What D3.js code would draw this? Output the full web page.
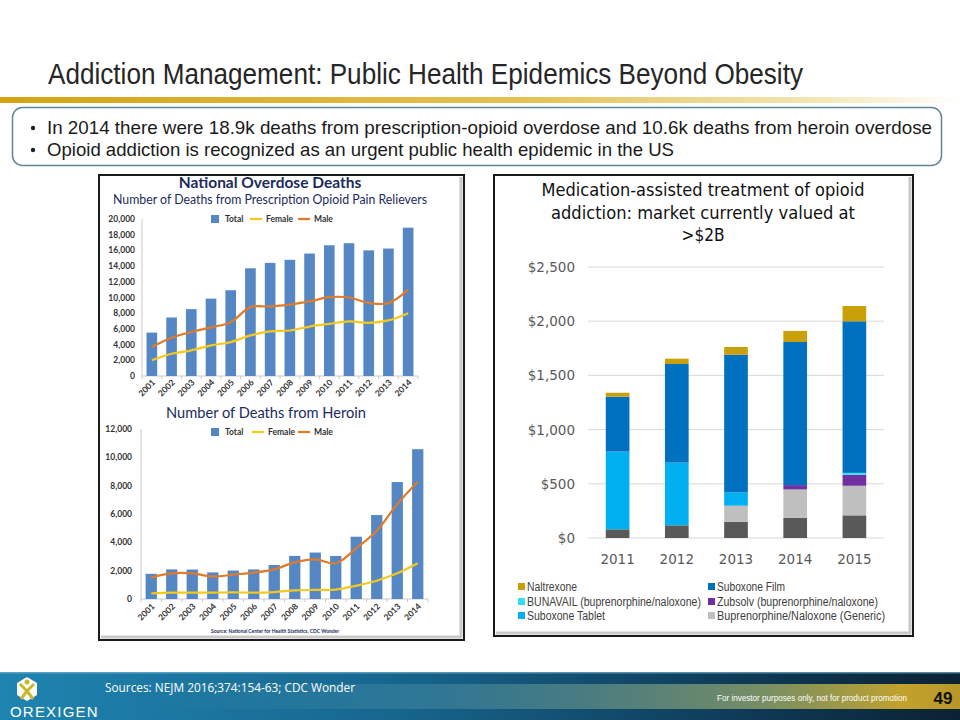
<!DOCTYPE html>
<html><head><meta charset="utf-8">
<script src="https://cdn.jsdelivr.net/npm/d3@7"></script>
<style>body{margin:0;background:#fff}svg{display:block}</style>
</head><body>
<script>
// ---------- DATA ----------
const years = ["2001","2002","2003","2004","2005","2006","2007","2008","2009","2010","2011","2012","2013","2014"];
const rxTotal  = [5528,7456,8517,9857,10928,13723,14408,14800,15597,16651,16917,16007,16235,18893];
const rxMale   = [3690,4870,5600,6200,6860,8770,8860,9100,9500,10040,10000,9320,9280,11000];
const rxFemale = [2000,2840,3260,3900,4320,5170,5680,5800,6300,6650,6950,6780,7080,8000];
const herTotal  = [1779,2089,2080,1878,2009,2088,2399,3041,3278,3036,4397,5925,8257,10574];
const herMale   = [1530,1810,1810,1580,1720,1860,2090,2590,2800,2520,3580,4820,6700,8280];
const herFemale = [400,450,450,450,470,450,490,610,640,660,940,1290,1810,2520];
const rxTicks = [0,2000,4000,6000,8000,10000,12000,14000,16000,18000,20000];
const herTicks = [0,2000,4000,6000,8000,10000,12000];

const marketYears = ["2011","2012","2013","2014","2015"];
const otherBup   = [80,117,150,187,209];
const generic    = [0,0,148,261,273];
const suboxTablet= [717,579,122,0,0];
const zubsolv    = [0,0,0,40,101];
const bunavail   = [0,0,0,0,18];
const suboxFilm  = [506,909,1271,1320,1398];
const naltrexone = [37,49,71,102,141];
const marketTicks = [0,500,1000,1500,2000,2500];
const marketTickLabels = ["$0","$500","$1,000","$1,500","$2,000","$2,500"];

// ---------- SVG ----------
const W=960,H=720;
const svg=d3.select("body").append("svg").attr("width",W).attr("height",H);
svg.append("rect").attr("width",W).attr("height",H).attr("fill","#fff");
const defs=svg.append("defs");

function grad(id,stops,x2="100%",y2="0%"){
  const g=defs.append("linearGradient").attr("id",id).attr("x1","0%").attr("y1","0%").attr("x2",x2).attr("y2",y2);
  stops.forEach(s=>g.append("stop").attr("offset",s[0]).attr("stop-color",s[1]).attr("stop-opacity",s[2]==null?1:s[2]));
}
grad("gold",[["0%","#d4a410"],["55%","#e3c255"],["85%","#f3e6b5"],["100%","#ffffff"]]);
grad("foot",[["0%","#1f84b0"],["40%","#17678f"],["75%","#0f3d5a"],["100%","#0b2233"]]);
grad("stripe",[["0%","#4a9ab8",0],["35%","#5f9fae",0.35],["75%","#8ea36a",0.8],["93%","#c2a22c",1],["100%","#b8962a",1]]);

// ---------- HEADER ----------
svg.append("text").attr("x",48).attr("y",84).attr("textLength",755).attr("lengthAdjust","spacingAndGlyphs")
  .style("font-family","Liberation Sans, Arial").style("font-size","29px").attr("fill","#262626")
  .text("Addiction Management: Public Health Epidemics Beyond Obesity");
svg.append("rect").attr("x",0).attr("y",97).attr("width",W).attr("height",6).attr("fill","url(#gold)");
svg.append("rect").attr("x",12.5).attr("y",107.5).attr("width",929).attr("height",58).attr("rx",10)
  .attr("fill","#fff").attr("stroke","#5f8795").attr("stroke-width",1.5);
const bullets=[["In 2014 there were 18.9k deaths from prescription-opioid overdose and 10.6k deaths from heroin overdose",885,134],
               ["Opioid addiction is recognized as an urgent public health epidemic in the US",627,156]];
bullets.forEach(b=>{
  svg.append("circle").attr("cx",33).attr("cy",b[2]-6).attr("r",2.2).attr("fill","#222");
  svg.append("text").attr("x",47).attr("y",b[2]).attr("textLength",b[1]).attr("lengthAdjust","spacingAndGlyphs")
    .style("font-family","Liberation Sans, Arial").style("font-size","18.5px").attr("fill","#1a1a1a").text(b[0]);
});

// ---------- PANELS ----------
function panel(x,y,w,h){
  svg.append("line").attr("x1",x+w-3).attr("x2",x+w-3).attr("y1",y+2).attr("y2",y+h-2).attr("stroke","#c8c8c8").attr("stroke-width",3);
  svg.append("line").attr("x1",x+2).attr("x2",x+w-2).attr("y1",y+h-3).attr("y2",y+h-3).attr("stroke","#c8c8c8").attr("stroke-width",3);
  svg.append("rect").attr("x",x).attr("y",y).attr("width",w).attr("height",h).attr("fill","none").attr("stroke","#1a1a1a").attr("stroke-width",2);
}
panel(99,175,365,465);
panel(494,175,419,461);

// ---------- LEFT CHARTS ----------
const navy="#1c2b5e", barC="#5587c4", maleC="#e07b2a", femC="#f4c91c";
const lf="Lato, 'Open Sans', sans-serif";

function leftChart(o){
  const x=d3.scaleBand().domain(years).range([o.x0,o.x1]).paddingInner(o.pad).paddingOuter(o.pad/2);
  const y=d3.scaleLinear().domain([0,o.max]).range([o.y0,o.y1]);
  const g=svg.append("g");
  g.append("line").attr("x1",o.x0).attr("x2",o.x0).attr("y1",o.y0).attr("y2",o.y1).attr("stroke","#c9c9c9");
  g.append("line").attr("x1",o.x0).attr("x2",o.x1).attr("y1",o.y0).attr("y2",o.y0).attr("stroke","#c9c9c9");
  years.forEach(yr=>{const t=x(yr)-x.step()*x.paddingInner()/2;
    g.append("line").attr("x1",t).attr("x2",t).attr("y1",o.y0).attr("y2",o.y0+3).attr("stroke","#c9c9c9");});
  g.append("line").attr("x1",o.x1).attr("x2",o.x1).attr("y1",o.y0).attr("y2",o.y0+3).attr("stroke","#c9c9c9");
  g.selectAll(".yl").data(o.ticks).enter().append("text").attr("x",o.labX).attr("y",d=>y(d)+3)
    .attr("text-anchor","end").style("font-family",lf).style("font-weight","bold").style("font-size","8.5px")
    .attr("fill","#333").text(d3.format(","));
  g.selectAll(".b").data(o.total).enter().append("rect").attr("x",(d,i)=>x(years[i])).attr("width",x.bandwidth())
    .attr("y",d=>y(d)).attr("height",d=>o.y0-y(d)).attr("fill",barC);
  const line=d3.line().x((d,i)=>x(years[i])+x.bandwidth()/2).y(d=>y(d)).curve(d3.curveCatmullRom.alpha(0.5));
  g.append("path").attr("d",line(o.female)).attr("fill","none").attr("stroke",femC).attr("stroke-width",2.2);
  g.append("path").attr("d",line(o.male)).attr("fill","none").attr("stroke",maleC).attr("stroke-width",2.2);
  years.forEach(yr=>{
    g.append("text").attr("transform",`translate(${x(yr)+x.bandwidth()/2+4},${o.y0+o.lab}) rotate(-45)`)
      .attr("text-anchor","end").style("font-family",lf).style("font-weight","bold").style("font-size","8.5px")
      .attr("fill","#333").text(yr);
  });
  const ly=o.legY;
  g.append("rect").attr("x",211).attr("y",ly-4).attr("width",8).attr("height",8).attr("fill",barC);
  g.append("text").attr("x",225).attr("y",ly+3).text("Total");
  g.append("line").attr("x1",o.legF).attr("x2",o.legF+12).attr("y1",ly).attr("y2",ly).attr("stroke",femC).attr("stroke-width",2.2);
  g.append("text").attr("x",o.legF+16).attr("y",ly+3).text("Female");
  g.append("line").attr("x1",298).attr("x2",310).attr("y1",ly).attr("y2",ly).attr("stroke",maleC).attr("stroke-width",2.2);
  g.append("text").attr("x",314).attr("y",ly+3).text("Male");
  g.selectAll("text").filter(function(){return !this.getAttribute("transform") && this.getAttribute("text-anchor")!=="end";})
    .style("font-family",lf).style("font-weight","bold").style("font-size","8.5px").attr("fill","#333");
}
svg.append("text").attr("x",270).attr("y",188).attr("text-anchor","middle").style("font-family",lf)
  .style("font-weight","bold").style("font-size","15.5px").attr("fill",navy).text("National Overdose Deaths");
svg.append("text").attr("x",270).attr("y",204).attr("text-anchor","middle").attr("textLength",314).attr("lengthAdjust","spacingAndGlyphs")
  .style("font-family",lf).style("font-size","12.5px").attr("fill",navy).text("Number of Deaths from Prescription Opioid Pain Relievers");
leftChart({x0:142,x1:418,pad:0.46,y0:376,y1:219,max:20000,ticks:rxTicks,labX:135,total:rxTotal,male:rxMale,female:rxFemale,lab:7,legY:219,legF:250});

svg.append("text").attr("x",266).attr("y",418).attr("text-anchor","middle").attr("textLength",200).attr("lengthAdjust","spacingAndGlyphs")
  .style("font-family",lf).style("font-size","14.5px").attr("fill",navy).text("Number of Deaths from Heroin");
leftChart({x0:141,x1:428,pad:0.45,y0:599,y1:429,max:12000,ticks:herTicks,labX:132,total:herTotal,male:herMale,female:herFemale,lab:8,legY:432,legF:252});
svg.append("text").attr("x",275).attr("y",633).attr("text-anchor","middle").attr("textLength",128).attr("lengthAdjust","spacingAndGlyphs")
  .style("font-family",lf).style("font-weight","bold").style("font-size","5.5px").attr("fill",navy)
  .text("Source: National Center for Health Statistics, CDC Wonder");

// ---------- RIGHT CHART ----------
const rf="'DejaVu Sans', Verdana, sans-serif";
[["Medication-assisted treatment of opioid",196,323],["addiction: market currently valued at",219,304],[">$2B",241,43]].forEach(t=>{
  svg.append("text").attr("x",703).attr("y",t[1]).attr("text-anchor","middle").attr("textLength",t[2]).attr("lengthAdjust","spacingAndGlyphs")
    .style("font-family",rf).style("font-size","17.5px").attr("fill","#111").text(t[0]);
});
const mx=d3.scaleBand().domain(marketYears).range([588,884]).paddingInner(0.6).paddingOuter(0.3);
const my=d3.scaleLinear().domain([0,2500]).range([538,267]);
svg.selectAll(".grid").data(marketTicks).enter().append("line").attr("x1",588).attr("x2",884)
  .attr("y1",d=>my(d)).attr("y2",d=>my(d)).attr("stroke","#d9d9d9").attr("stroke-width",1);
svg.selectAll(".myl").data(marketTicks).enter().append("text").attr("x",575).attr("y",d=>my(d)+5)
  .attr("text-anchor","end").style("font-family",rf).style("font-size","13.5px").attr("fill","#595959")
  .text((d,i)=>marketTickLabels[i]);
svg.selectAll(".mxl").data(marketYears).enter().append("text").attr("x",d=>mx(d)+mx.bandwidth()/2).attr("y",564)
  .attr("text-anchor","middle").style("font-family",rf).style("font-size","13.5px").attr("fill","#595959").text(d=>d);

const seriesDefs=[
  {key:"other",vals:otherBup,color:"#595959"},
  {key:"generic",vals:generic,color:"#bfbfbf"},
  {key:"tablet",vals:suboxTablet,color:"#00b0f0"},
  {key:"zubsolv",vals:zubsolv,color:"#7030a0"},
  {key:"bunavail",vals:bunavail,color:"#33ddf2"},
  {key:"film",vals:suboxFilm,color:"#0070c0"},
  {key:"naltrexone",vals:naltrexone,color:"#c9a00a"}
];
const rows=marketYears.map((yr,i)=>{const r={year:yr};seriesDefs.forEach(s=>r[s.key]=s.vals[i]);return r;});
const stack=d3.stack().keys(seriesDefs.map(s=>s.key))(rows);
stack.forEach((layer,li)=>{
  svg.append("g").selectAll("rect").data(layer).enter().append("rect")
    .attr("x",d=>mx(d.data.year)).attr("width",mx.bandwidth())
    .attr("y",d=>my(d[1])).attr("height",d=>my(d[0])-my(d[1])).attr("fill",seriesDefs[li].color);
});
const legendItems=[["Naltrexone","#c9a00a",518,587],["Suboxone Film","#0070c0",708,587],
  ["BUNAVAIL (buprenorphine/naloxone)","#33ddf2",518,602],["Zubsolv (buprenorphine/naloxone)","#7030a0",708,602],
  ["Suboxone Tablet","#00b0f0",518,616],["Buprenorphine/Naloxone (Generic)","#bfbfbf",708,616]];
const legW={"Naltrexone":50,"Suboxone Film":68,"BUNAVAIL (buprenorphine/naloxone)":174,"Zubsolv (buprenorphine/naloxone)":161,"Suboxone Tablet":78,"Buprenorphine/Naloxone (Generic)":168};
legendItems.forEach(l=>{
  svg.append("rect").attr("x",l[2]).attr("y",l[3]-4).attr("width",7).attr("height",7).attr("fill",l[1]);
  svg.append("text").attr("x",l[2]+9).attr("y",l[3]+4).attr("textLength",legW[l[0]]).attr("lengthAdjust","spacingAndGlyphs")
    .style("font-family","'Liberation Sans', Arial, sans-serif").style("font-size","12px").attr("fill","#404040").text(l[0]);
});

// ---------- FOOTER ----------
svg.append("rect").attr("x",0).attr("y",672).attr("width",W).attr("height",48).attr("fill","url(#foot)");
svg.append("rect").attr("x",0).attr("y",672).attr("width",W).attr("height",1.5).attr("fill","#6fb0cc").attr("opacity",0.7);
svg.append("rect").attr("x",150).attr("y",684).attr("width",810).attr("height",25).attr("fill","url(#stripe)");
svg.append("text").attr("x",105).attr("y",692).style("font-family","'Open Sans', sans-serif").style("font-size","13px")
  .attr("textLength",250).attr("lengthAdjust","spacingAndGlyphs").attr("fill","#fff").text("Sources: NEJM 2016;374:154-63; CDC Wonder");
svg.append("text").attr("x",717).attr("y",701).attr("textLength",190).attr("lengthAdjust","spacingAndGlyphs")
  .style("font-family","'Liberation Sans', sans-serif").style("font-size","8.8px").attr("fill","#fff")
  .text("For investor purposes only, not for product promotion");
svg.append("text").attr("x",943).attr("y",704).attr("text-anchor","middle").style("font-family","'Liberation Sans', sans-serif")
  .style("font-weight","bold").style("font-size","17px").attr("fill","#111").text("49");
const lg=svg.append("g").attr("transform","translate(27,689)");
lg.append("path").attr("d","M0,-12 L10,-6 L10,6 L0,12 L-10,6 L-10,-6Z").attr("fill","#fff");
lg.append("path").attr("d","M-7,-5 L0,2 L7,-5 M0,2 L-6,10 M0,2 L6,10").attr("stroke","#c8b82a").attr("stroke-width",3).attr("fill","none");
lg.append("circle").attr("cx",0).attr("cy",-7).attr("r",2.5).attr("fill","#c8b82a");
svg.append("text").attr("x",10).attr("y",717).style("font-family","'Liberation Sans', sans-serif").style("font-size","15px")
  .attr("letter-spacing","1.2").attr("fill","#fff").text("OREXIGEN");
</script>
</body></html>
